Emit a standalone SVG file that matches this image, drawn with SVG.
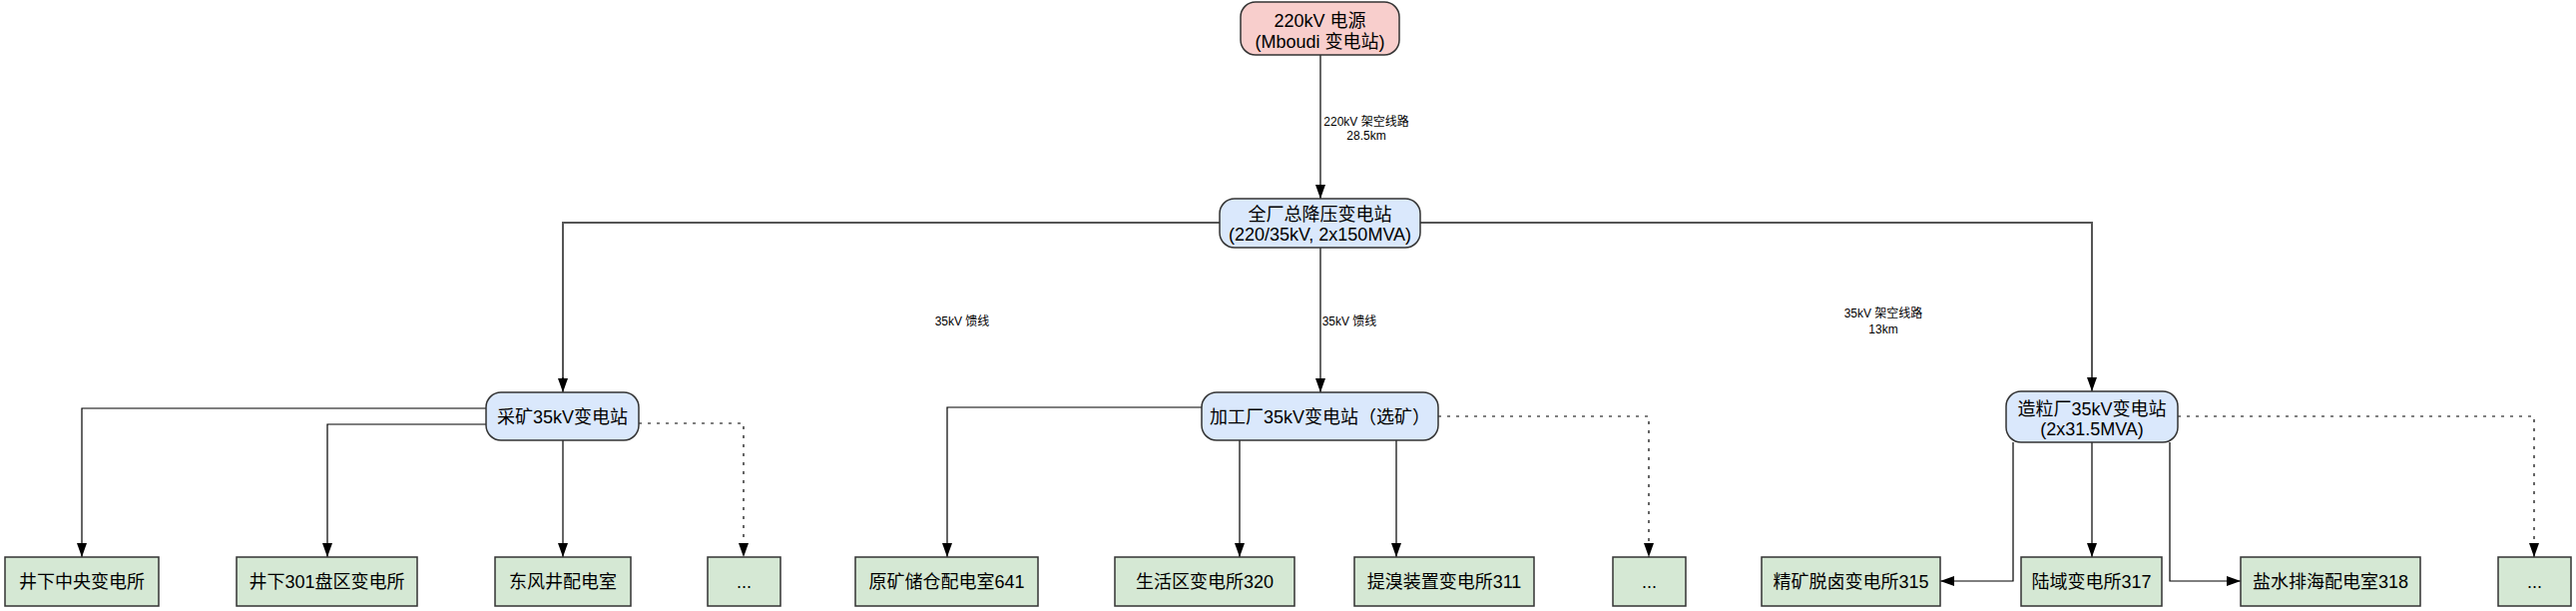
<svg xmlns="http://www.w3.org/2000/svg" width="2581" height="612" viewBox="0 0 2581 612">
<style>
text{font-family:"Liberation Sans","Noto Sans CJK SC",sans-serif;fill:#000;text-anchor:middle;dominant-baseline:central}
.n{font-size:18px}
.lbl{font-size:12px}
.src{fill:#f8cecc;stroke:#333;stroke-width:1.5}
.sub{fill:#dae8fc;stroke:#333;stroke-width:1.5}
.leaf{fill:#d5e8d4;stroke:#333;stroke-width:1.5}
.c{fill:none;stroke:#000;stroke-width:1.2;marker-end:url(#ah)}
.m{fill:none;stroke:#555;stroke-width:2}
.d{fill:none;stroke:#000;stroke-width:1.2;stroke-dasharray:3 6;marker-end:url(#ah)}
</style>
<defs>
<marker id="ah" viewBox="0 0 14 10" refX="14" refY="5" markerWidth="14" markerHeight="10" markerUnits="userSpaceOnUse" orient="auto">
<path d="M0,0 L14,5 L0,10 Z" fill="#000"/>
</marker>
</defs>
<rect width="2581" height="612" fill="#fff"/>
<g id="connectors">
<path class="c" d="M1323,55 V199"/>
<path class="m" d="M1222,223 H564 V380"/>
<path class="c" d="M564,378 V393"/>
<path class="c" d="M1323,248 V393"/>
<path class="m" d="M1423,223 H2096 V380"/>
<path class="c" d="M2096,378 V392"/>
<path class="c" d="M487,409 H82 V558"/>
<path class="c" d="M487,425 H328 V558"/>
<path class="c" d="M564,441 V558"/>
<path class="d" d="M640,424 H745 V558"/>
<path class="c" d="M1204,408 H949 V558"/>
<path class="c" d="M1242,441 V558"/>
<path class="c" d="M1399,441 V558"/>
<path class="d" d="M1441,417 H1652 V558"/>
<path class="c" d="M2017,443 V582 H1944"/>
<path class="c" d="M2096,443 V558"/>
<path class="c" d="M2174,443 V582 H2245"/>
<path class="d" d="M2182,417 H2539 V558"/>
<text class="lbl" x="1369" y="122">220kV 架空线路</text>
<text class="lbl" x="1369" y="136">28.5km</text>
<text class="lbl" x="964" y="322">35kV 馈线</text>
<text class="lbl" x="1352" y="322">35kV 馈线</text>
<text class="lbl" x="1887" y="314">35kV 架空线路</text>
<text class="lbl" x="1887" y="330">13km</text>
</g>
<g id="n-source">
<rect class="src" x="1243" y="2" width="159" height="53" rx="15"/>
<text class="n" x="1322.5" y="21">220kV 电源</text>
<text class="n" x="1322.5" y="42">(Mboudi 变电站)</text>
</g>
<g id="n-main">
<rect class="sub" x="1222" y="199" width="201" height="49" rx="15"/>
<text class="n" x="1322.5" y="215">全厂总降压变电站</text>
<text class="n" x="1322.5" y="235">(220/35kV, 2x150MVA)</text>
</g>
<g id="n-mining">
<rect class="sub" x="487" y="393" width="153" height="48" rx="15"/>
<text class="n" x="563.5" y="418">采矿35kV变电站</text>
</g>
<g id="n-process">
<rect class="sub" x="1204" y="393" width="237" height="48" rx="15"/>
<text class="n" x="1322.5" y="418">加工厂35kV变电站（选矿）</text>
</g>
<g id="n-pellet">
<rect class="sub" x="2010" y="392" width="172" height="51" rx="15"/>
<text class="n" x="2096" y="410">造粒厂35kV变电站</text>
<text class="n" x="2096" y="430">(2x31.5MVA)</text>
</g>
<g id="n-l1"><rect class="leaf" x="5" y="558" width="154" height="49"/><text class="n" x="82" y="583">井下中央变电所</text></g>
<g id="n-l2"><rect class="leaf" x="237" y="558" width="181" height="49"/><text class="n" x="327.5" y="583">井下301盘区变电所</text></g>
<g id="n-l3"><rect class="leaf" x="496" y="558" width="136" height="49"/><text class="n" x="564" y="583">东风井配电室</text></g>
<g id="n-l4"><rect class="leaf" x="709" y="558" width="73" height="49"/><text class="n" x="745.5" y="583">...</text></g>
<g id="n-l5"><rect class="leaf" x="857" y="558" width="183" height="49"/><text class="n" x="948.5" y="583">原矿储仓配电室641</text></g>
<g id="n-l6"><rect class="leaf" x="1117" y="558" width="180" height="49"/><text class="n" x="1207" y="583">生活区变电所320</text></g>
<g id="n-l7"><rect class="leaf" x="1357" y="558" width="180" height="49"/><text class="n" x="1447" y="583">提溴装置变电所311</text></g>
<g id="n-l8"><rect class="leaf" x="1616" y="558" width="73" height="49"/><text class="n" x="1652.5" y="583">...</text></g>
<g id="n-l9"><rect class="leaf" x="1765" y="558" width="179" height="49"/><text class="n" x="1854.5" y="583">精矿脱卤变电所315</text></g>
<g id="n-l10"><rect class="leaf" x="2025" y="558" width="141" height="49"/><text class="n" x="2095.5" y="583">陆域变电所317</text></g>
<g id="n-l11"><rect class="leaf" x="2245" y="558" width="180" height="49"/><text class="n" x="2335" y="583">盐水排海配电室318</text></g>
<g id="n-l12"><rect class="leaf" x="2503" y="558" width="73" height="49"/><text class="n" x="2539.5" y="583">...</text></g>
</svg>
